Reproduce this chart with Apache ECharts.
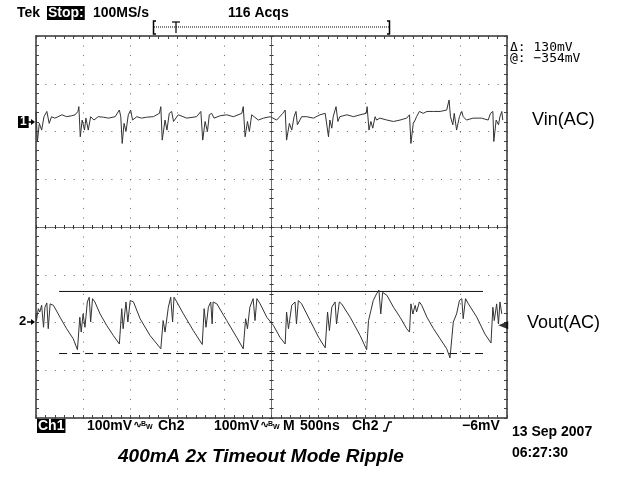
<!DOCTYPE html>
<html>
<head>
<meta charset="utf-8">
<script src="https://cdn.jsdelivr.net/npm/echarts@6/dist/echarts.min.js"></script>
<style>
  html, body { margin: 0; padding: 0; background: #fff; }
  #chart { width: 626px; height: 481px; }
</style>
</head>
<body>
<div id="chart"></div>
<script>
// time in ns (500 ns/div), voltage in mV (100 mV/div), relative to each channel's marker
const timeRange = [0, 5000]
const screenRange = [-400, 400]
const ch1Offset = 220
const ch2Offset = -200

const vinData = [
  [0, 22], [15, -41], [35, -3], [60, -17], [85, 11], [115, 22], [140, -3], [165, 11], [200, 8],
  [235, 11], [275, 15], [325, 11], [380, 13], [415, 15], [445, 22], [455, 32], [470, -31],
  [490, 4], [515, -17], [530, 8], [555, -17], [580, 11], [615, 4], [660, 11], [715, 10],
  [770, 8], [840, 11], [885, 25], [900, 11], [915, -45], [935, -3], [955, -20], [980, 15],
  [1005, 25], [1025, 4], [1070, 11], [1120, 8], [1175, 10], [1245, 11], [1310, 18], [1325, 32],
  [1340, -38], [1370, 4], [1390, -17], [1415, 18], [1440, 22], [1460, 1], [1510, 15], [1600, 8],
  [1705, 11], [1750, 22], [1770, -38], [1795, 1], [1820, -20], [1840, 15], [1865, 18], [1890, 8],
  [1955, 13], [2025, 15], [2095, 11], [2185, 18], [2200, 32], [2220, -31], [2245, 1], [2265, -20],
  [2290, 15], [2315, 11], [2360, 4], [2415, 8], [2485, 11], [2555, 4], [2620, 18], [2645, 25],
  [2660, -38], [2690, -3], [2715, -17], [2740, 11], [2760, 22], [2775, -6], [2820, 11], [2875, 11],
  [2945, 8], [3015, 15], [3070, 18], [3085, 22], [3105, -31], [3120, 4], [3140, -13], [3155, 11],
  [3185, 32], [3205, 1], [3225, 11], [3300, 15], [3370, 11], [3440, 15], [3505, 18], [3515, 32],
  [3535, -17], [3555, 1], [3575, -13], [3600, 11], [3615, 4], [3650, 8], [3725, 4], [3795, 1],
  [3865, 4], [3935, 8], [3965, 15], [3980, -45], [4005, -3], [4025, 4], [4040, 11], [4070, 22],
  [4110, 18], [4150, 22], [4220, 22], [4290, 22], [4360, 25], [4385, 46], [4400, 11], [4425, -6],
  [4440, 18], [4465, -17], [4495, 11], [4520, 22], [4535, 11], [4570, 4], [4640, 8], [4730, 8],
  [4800, 4], [4825, 18], [4850, 22], [4860, -41], [4885, 4], [4910, -6], [4925, 11], [4945, 22],
  [4955, 4]
]

const voutData = [
  [0, 18], [5, 4], [25, 29], [40, 22], [60, 36], [80, -10], [95, 32], [115, 41], [130, -13],
  [150, 39], [165, 43], [185, 36], [255, 11], [325, -13], [395, -34], [440, -57], [465, 11],
  [480, -20], [500, 18], [520, -10], [545, 43], [565, 53], [580, 1], [600, 50], [625, 43],
  [680, 18], [750, -6], [820, -27], [885, -45], [910, 29], [925, -13], [955, 43], [975, 1],
  [1000, 46], [1035, 43], [1105, 8], [1210, -27], [1325, -55], [1350, 4], [1370, -20], [1405, 32],
  [1430, 53], [1450, 1], [1465, 53], [1495, 43], [1565, 18], [1670, -17], [1765, -46], [1785, 29],
  [1805, -10], [1830, 32], [1855, 43], [1870, -3], [1880, 43], [1920, 39], [2025, 4], [2130, -31],
  [2200, -55], [2225, 8], [2245, -13], [2270, 32], [2305, 50], [2325, 4], [2345, 50], [2380, 39],
  [2450, 11], [2520, -6], [2590, -31], [2645, -45], [2660, 22], [2680, -13], [2715, 36], [2750, 43],
  [2765, -3], [2785, 46], [2820, 39], [2910, 4], [3000, -31], [3070, -53], [3095, 22], [3115, -17],
  [3140, 32], [3175, 43], [3190, -3], [3220, 43], [3245, 39], [3335, 11], [3440, -27], [3510, -57],
  [3530, 4], [3555, 25], [3580, 46], [3615, 60], [3640, 68], [3660, 18], [3680, 63], [3725, 57],
  [3795, 32], [3865, 11], [3935, -13], [3965, -20], [3980, 39], [4000, 18], [4025, 36], [4040, 22],
  [4070, 43], [4095, 36], [4150, 11], [4220, -13], [4290, -34], [4360, -55], [4395, -74], [4415, -31],
  [4430, 1], [4465, 18], [4495, 46], [4520, 50], [4535, 8], [4560, 50], [4590, 39], [4680, 11],
  [4765, -24], [4830, -43], [4850, 32], [4865, 4], [4890, 39], [4910, -3], [4925, 43], [4945, 18]
]

// horizontal bar cursors on Ch2 (delta 130mV)
const cursorLevels = [65, -65]
const cursorSpan = [245, 4745]
const triggerLevel = -6

const chart = echarts.init(document.getElementById('chart'))

const gridBox = {left: 36, top: 36, width: 471, height: 382}
const ink = '#111'
const dotColor = '#666'
const scopeFont = '"Liberation Sans", Arial, sans-serif'

const hidden = {show: false}

const frameX = (pos) => ({
  gridIndex: 0, type: 'value', position: pos, min: timeRange[0], max: timeRange[1], interval: 100,
  axisLine: {show: true, onZero: false, lineStyle: {color: '#333', width: 1.5}},
  axisTick: {show: true, inside: true, length: 3, lineStyle: {color: '#444'}},
  axisLabel: hidden, splitLine: hidden
})
const frameY = (pos) => ({
  gridIndex: 0, type: 'value', position: pos, min: screenRange[0], max: screenRange[1], interval: 20,
  axisLine: {show: true, onZero: false, lineStyle: {color: '#333', width: 1.5}},
  axisTick: {show: true, inside: true, length: 3, lineStyle: {color: '#444'}},
  axisLabel: hidden, splitLine: hidden
})
const crossX = (g, inside) => ({
  gridIndex: g, type: 'value', min: -2500, max: 2500, interval: 100,
  axisLine: {show: true, onZero: true, lineStyle: {color: dotColor, type: [1, 1]}},
  axisTick: {show: true, inside: inside, length: 2, lineStyle: {color: '#333'}},
  axisLabel: hidden, splitLine: hidden
})
const crossY = (g, inside) => ({
  gridIndex: g, type: 'value', min: screenRange[0], max: screenRange[1], interval: 20,
  axisLine: {show: true, onZero: true, lineStyle: {color: dotColor, type: [1, 1]}},
  axisTick: {show: true, inside: inside, length: 2, lineStyle: {color: '#333'}},
  axisLabel: hidden, splitLine: hidden
})

const txt = (left, top, text, font, extra) => ({
  type: 'text', x: left, y: top, z: 100,
  style: Object.assign({text: text, font: font, fill: '#000'}, extra || {})
})
const scope = (left, top, text, extra) => txt(left, top, text, 'bold 14px ' + scopeFont, extra)
const bw = (left, top) => [
  txt(left, top + 1, '\u223f', 'bold 11px "DejaVu Sans", sans-serif'),
  txt(left + 8, top + 2, 'B', 'bold 7px ' + scopeFont),
  txt(left + 13, top + 5, 'W', 'bold 7px ' + scopeFont)
]
const arrow = (x1, x2, y) => [
  {type: 'line', z: 100, shape: {x1: x1, y1: y, x2: x2 - 2, y2: y}, style: {stroke: '#000', lineWidth: 1.5}},
  {type: 'polygon', z: 100, shape: {points: [[x2, y], [x2 - 4, y - 3], [x2 - 4, y + 3]]}, style: {fill: '#000'}}
]
const line = (pts, w, dash) => ({
  type: 'polyline', z: 100, shape: {points: pts},
  style: {stroke: '#000', lineWidth: w, fill: null, lineDash: dash || null}
})

const option = {
  backgroundColor: '#fff',
  animation: false,
  grid: [gridBox, gridBox, gridBox, gridBox],
  xAxis: [
    frameX('bottom'), frameX('top'),
    {
      gridIndex: 1, type: 'value', min: timeRange[0], max: timeRange[1], interval: 500,
      axisLine: hidden, axisTick: hidden, axisLabel: hidden,
      splitLine: {show: true, lineStyle: {color: dotColor, width: 1, type: [1, 8.55]}}
    },
    crossX(2, true), crossX(3, false)
  ],
  yAxis: [
    frameY('left'), frameY('right'),
    {
      gridIndex: 1, type: 'value', min: screenRange[0], max: screenRange[1], interval: 100,
      axisLine: hidden, axisTick: hidden, axisLabel: hidden,
      splitLine: {show: true, lineStyle: {color: dotColor, width: 1, type: [1, 8.42]}}
    },
    crossY(2, true), crossY(3, false)
  ],
  series: [
    {
      name: 'Vin', type: 'line', xAxisIndex: 0, yAxisIndex: 0, showSymbol: false,
      data: vinData.map(([t, v]) => [t, v + ch1Offset]),
      lineStyle: {color: '#333', width: 1}, z: 10
    },
    {
      name: 'Vout', type: 'line', xAxisIndex: 0, yAxisIndex: 0, showSymbol: false,
      data: voutData.map(([t, v]) => [t, v + ch2Offset]),
      lineStyle: {color: '#333', width: 1}, z: 10
    },
    {
      name: 'cursor1', type: 'line', xAxisIndex: 0, yAxisIndex: 0, showSymbol: false,
      data: cursorSpan.map(t => [t, cursorLevels[0] + ch2Offset]),
      lineStyle: {color: ink, width: 1}
    },
    {
      name: 'cursor2', type: 'line', xAxisIndex: 0, yAxisIndex: 0, showSymbol: false,
      data: cursorSpan.map(t => [t, cursorLevels[1] + ch2Offset]),
      lineStyle: {color: ink, width: 1, type: [8, 5]}
    },
    {
      name: 'trigger', type: 'scatter', xAxisIndex: 0, yAxisIndex: 0,
      data: [[4960, triggerLevel + ch2Offset]],
      symbol: 'triangle', symbolRotate: 90, symbolSize: [8, 10],
      itemStyle: {color: '#000'}, z: 20
    }
  ],
  graphic: [
    scope(17, 6, 'Tek'),
    scope(47, 6, 'Stop:', {fill: '#fff', backgroundColor: '#000', padding: [0, 1]}),
    scope(93, 6, '100MS/s'),
    scope(228, 6, '116 Acqs'),
    line([[154, 27], [390, 27]], 1, [1, 1]),
    line([[156, 21], [153.5, 21], [153.5, 34], [156, 34]], 1.5),
    line([[387, 21], [389.5, 21], [389.5, 34], [387, 34]], 1.5),
    line([[172, 22], [180, 22]], 1.2),
    line([[176, 22], [176, 33]], 1.2),
    txt(510, 41, '\u0394: 130mV', '13px "DejaVu Sans Mono", monospace'),
    txt(510, 52, '@: \u2212354mV', '13px "DejaVu Sans Mono", monospace'),
    txt(18, 116, '1', 'bold 12px ' + scopeFont, {fill: '#fff', backgroundColor: '#000', padding: [0, 2]}),
    ...arrow(28, 35, 122),
    txt(19, 315, '2', 'bold 13px ' + scopeFont),
    ...arrow(27, 35, 322),
    txt(532, 111, 'Vin(AC)', '18px Arial, "Liberation Sans", sans-serif'),
    txt(527, 314, 'Vout(AC)', '18px Arial, "Liberation Sans", sans-serif'),
    scope(37, 419, 'Ch1', {fill: '#fff', backgroundColor: '#000', padding: [0, 1]}),
    scope(87, 419, '100mV'),
    ...bw(133, 419),
    scope(158, 419, 'Ch2'),
    scope(214, 419, '100mV'),
    ...bw(260, 419),
    scope(283, 419, 'M'),
    scope(300, 419, '500ns'),
    scope(352, 419, 'Ch2'),
    line([[383, 431], [386, 431], [389, 422], [392, 422]], 1.5),
    scope(462, 419, '\u22126mV'),
    scope(512, 425, '13 Sep 2007'),
    scope(512, 446, '06:27:30'),
    txt(118, 447, '400mA 2x Timeout Mode Ripple', 'italic bold 19px Arial, "Liberation Sans", sans-serif')
  ]
}

chart.setOption(option)
</script>
</body>
</html>
